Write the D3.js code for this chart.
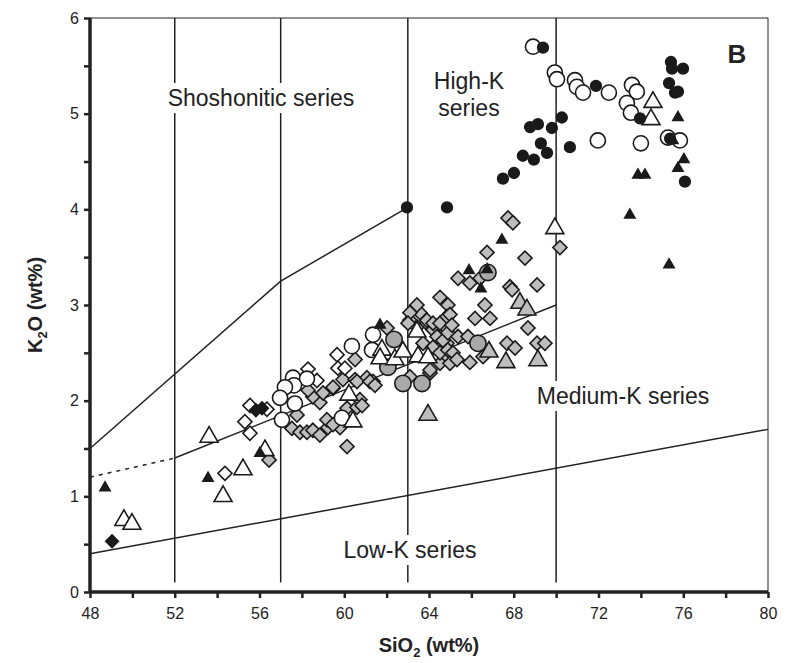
<!DOCTYPE html>
<html>
<head>
<meta charset="utf-8">
<script src="https://cdn.jsdelivr.net/npm/d3@7"></script>
<style>
  body { margin: 0; background: #fff; }
  svg text { font-family: "Liberation Sans", Arial, sans-serif; fill: #222; }
</style>
</head>
<body>
<div id="chart"></div>
<script>
// SiO2 vs K2O values, [SiO2, K2O]
const grayDiamonds = [
  [56.45,1.38],[57.77,1.85],[57.53,1.71],[57.91,1.67],[58.24,1.67],[58.52,1.69],[58.85,1.64],[59.23,1.72],
  [59.80,1.72],[60.13,1.52],[58.85,1.98],[58.52,2.04],[59.47,2.13],[59.94,2.22],[60.51,2.43],[60.51,2.22],
  [61.07,2.24],[61.36,2.20],[60.13,1.92],[60.60,1.93],[58.29,2.11],[63.10,2.25],[62.02,2.76],[64.52,3.08],
  [64.89,3.00],[63.57,2.92],[63.10,2.84],[63.43,2.77],[63.90,2.81],[64.19,2.74],[64.52,2.67],[64.85,2.60],
  [63.72,2.60],[64.19,2.56],[64.85,2.46],[64.52,2.39],[64.05,2.29],[63.43,3.00],[63.10,2.92],[63.90,2.84],
  [64.19,2.81],[64.52,2.81],[64.85,2.88],[63.01,2.81],[64.38,2.67],[64.66,2.63],[64.89,2.71],[64.52,2.50],
  [64.89,2.53],[64.05,2.32],[62.02,2.35],[60.60,2.20],[61.21,2.20],[61.45,2.16],[59.47,2.14],[59.00,2.08],
  [60.74,2.01],[60.84,1.95],[59.18,1.80],[59.47,1.75],[67.73,3.91],[67.96,3.86],[66.74,3.55],[68.53,3.49],
  [70.18,3.60],[65.37,3.28],[65.93,3.23],[66.41,3.28],[67.82,3.19],[67.92,3.16],[69.10,3.21],[66.64,3.00],
  [66.17,2.86],[66.88,2.86],[68.67,2.76],[67.68,2.60],[68.06,2.55],[69.10,2.60],[69.47,2.60],[65.93,2.40],
  [64.99,2.90],[65.08,2.79],[65.37,2.67],[65.84,2.67],[65.13,2.50],[64.99,2.39],[65.32,2.43],[66.55,2.46]
];
const openDiamonds = [
  [54.37,1.24],[55.31,1.78],[55.55,1.95],[55.55,1.66],[56.35,1.91],[58.29,2.33],[58.71,2.21],
  [59.66,2.48],[59.70,2.34],[60.03,2.34]
];
const blackDiamonds = [[49.04,0.53],[56.12,1.92],[55.83,1.90]];
const grayCircles = [[62.35,2.64],[62.77,2.18],[63.67,2.18],[62.06,2.35],[66.31,2.60],[66.78,3.34]];
const openCircles = [
  [68.91,5.70],[69.94,5.43],[70.04,5.36],[70.89,5.35],[70.98,5.28],[71.27,5.22],[72.49,5.22],[71.97,4.72],
  [73.58,5.30],[73.81,5.23],[73.34,5.11],[73.53,5.01],[74.00,4.69],[75.28,4.75],[75.84,4.72],
  [57.58,2.24],[58.24,2.23],[57.63,2.16],[57.20,2.14],[56.97,2.03],[57.67,1.97],[57.06,1.80],
  [60.36,2.57],[61.31,2.53],[61.36,2.69],[59.89,1.82]
];
const grayTriangles = [[68.29,3.02],[68.62,2.95],[66.83,2.51],[67.63,2.40],[69.14,2.42],[63.95,1.85]];
const openTriangles = [
  [53.62,1.62],[56.26,1.48],[55.22,1.28],[54.28,1.00],[49.60,0.75],[49.98,0.71],[69.94,3.80],
  [74.57,5.12],[74.48,4.94],[63.43,2.72],[61.78,2.53],[61.69,2.44],[62.39,2.43],[62.77,2.51],
  [63.48,2.46],[63.95,2.45],[60.22,2.06],[60.41,1.78]
];
const blackCircles = [
  [69.38,5.69],[71.88,5.29],[70.27,4.96],[69.14,4.89],[68.77,4.86],[69.80,4.85],[69.28,4.69],[70.65,4.65],
  [69.57,4.59],[68.43,4.56],[68.95,4.52],[68.01,4.38],[67.49,4.32],[62.96,4.02],[64.85,4.02],[73.96,4.95],
  [75.42,5.54],[75.47,5.47],[75.99,5.47],[75.33,5.32],[75.61,5.22],[75.75,5.23],[75.38,4.74],[76.08,4.29]
];
const blackTriangles = [
  [48.71,1.09],[53.57,1.19],[56.02,1.45],[61.69,2.79],[67.44,3.68],[65.89,3.36],[66.74,3.37],[66.45,3.17],
  [75.75,4.96],[75.51,4.72],[76.03,4.52],[75.75,4.43],[73.86,4.36],[74.19,4.36],[73.48,3.94],[75.33,3.42]
];

// series boundaries
const verticalDividers = [52, 57, 63, 70];
const shoshoniticLine = [[48,1.5],[57,3.25],[63,4.02]];
const highKDashed = [[48,1.2],[52,1.4]];
const highKLine = [[52,1.4],[70,3.0]];
const lowKLine = [[48,0.4],[80,1.7]];

const xTicks = d3.range(48, 81, 2);
const yTicks = d3.range(0, 6.01, 0.5);

const W = 788, H = 663;
const m = { left: 90, right: 768, top: 18, bottom: 592 };

const svg = d3.select('#chart').append('svg')
  .attr('width', W).attr('height', H);

const x = d3.scaleLinear().domain([48, 80]).range([m.left, m.right]);
const y = d3.scaleLinear().domain([0, 6]).range([m.bottom, m.top]);

// frame (top and right thin)
svg.append('path')
  .attr('d', `M${m.left},${m.top}H${m.right}V${m.bottom}`)
  .attr('fill', 'none').attr('stroke', '#222').attr('stroke-width', 1);

const line = d3.line().x(d => x(d[0])).y(d => y(d[1]));

// vertical dividers
svg.append('g').selectAll('line')
  .data(verticalDividers)
  .join('line')
  .attr('x1', d => x(d)).attr('x2', d => x(d))
  .attr('y1', y(6)).attr('y2', y(0.1))
  .attr('stroke', '#222').attr('stroke-width', 1.5);

[shoshoniticLine, highKLine, lowKLine].forEach(pts => {
  svg.append('path').attr('d', line(pts))
    .attr('fill', 'none').attr('stroke', '#222').attr('stroke-width', 1.5);
});
svg.append('path').attr('d', line(highKDashed))
  .attr('fill', 'none').attr('stroke', '#222').attr('stroke-width', 1.5)
  .attr('stroke-dasharray', '4,5');

// field labels with white background boxes
function fieldLabel(lines, cx, cy, size, pad) {
  const g = svg.append('g');
  const t = g.append('text')
    .attr('text-anchor', 'middle')
    .style('font-size', size + 'px');
  lines.forEach((s, i) => {
    t.append('tspan').attr('x', cx).attr('y', cy + i * 27).text(s);
  });
  const b = t.node().getBBox();
  g.insert('rect', 'text')
    .attr('x', b.x - pad).attr('y', b.y - 2)
    .attr('width', b.width + pad * 2).attr('height', b.height + 4)
    .attr('fill', '#fff');
}
fieldLabel(['Shoshonitic series'], 261, 106, 23, 6);
fieldLabel(['High-K', 'series'], 469, 89, 23, 4);
fieldLabel(['Medium-K series'], 623, 404, 23, 6);
fieldLabel(['Low-K series'], 410, 558, 23, 6);

svg.append('text')
  .attr('x', 737).attr('y', 63)
  .attr('text-anchor', 'middle')
  .style('font-size', '26px').style('font-weight', 'bold')
  .text('B');

// markers
const dark = '#1a1a1a';
function drawSeries(data, type, size, fill, rotate) {
  svg.append('g').selectAll('path')
    .data(data)
    .join('path')
    .attr('d', d3.symbol().type(type).size(size))
    .attr('transform', d => `translate(${x(d[0])},${y(d[1])})` + (rotate ? ' rotate(45)' : ''))
    .attr('fill', fill)
    .attr('stroke', dark)
    .attr('stroke-width', 1.6);
}
drawSeries(grayDiamonds, d3.symbolSquare, 100, '#bdbdbd', true);
drawSeries(openDiamonds, d3.symbolSquare, 100, '#fff', true);
drawSeries(blackDiamonds, d3.symbolSquare, 80, dark, true);
drawSeries(grayCircles, d3.symbolCircle, 210, '#a9a9a9');
drawSeries(openCircles, d3.symbolCircle, 180, '#fff');
drawSeries(grayTriangles, d3.symbolTriangle, 140, '#bdbdbd');
drawSeries(openTriangles, d3.symbolTriangle, 140, '#fff');
drawSeries(blackCircles, d3.symbolCircle, 90, dark);
drawSeries(blackTriangles, d3.symbolTriangle, 45, dark);

// axes
const yAxis = d3.axisLeft(y).tickValues(yTicks)
  .tickFormat(d => Number.isInteger(d) ? d : '')
  .tickSize(6).tickPadding(5);
const gy = svg.append('g').attr('transform', `translate(${m.left},0)`).call(yAxis);
gy.select('.domain').attr('d', `M0,${m.top}V${m.bottom}`);

const xAxis = d3.axisBottom(x).tickValues(xTicks)
  .tickFormat(d => d % 4 === 0 ? d : '')
  .tickSize(6).tickPadding(10);
const gx = svg.append('g').attr('transform', `translate(0,${m.bottom})`).call(xAxis);
gx.select('.domain').attr('d', `M${m.left},0H${m.right}`);

[gx, gy].forEach(g => {
  g.selectAll('.tick line').style('stroke', '#222').style('stroke-width', '2.5px');
  g.selectAll('.tick text')
    .style('font-size', '16px')
    .style('font-family', '"Liberation Sans", Arial, sans-serif')
    .attr('fill', '#222');
  g.select('.domain').style('stroke', '#222').style('stroke-width', '3.5px');
});

// axis titles
const xt = svg.append('text')
  .attr('x', 429).attr('y', 652)
  .attr('text-anchor', 'middle')
  .style('font-size', '20px').style('font-weight', 'bold');
xt.append('tspan').text('SiO');
xt.append('tspan').text('2').style('font-size', '13px').attr('dy', 5);
xt.append('tspan').text(' (wt%)').attr('dy', -5);

const yt = svg.append('text')
  .attr('transform', 'translate(42,305) rotate(-90)')
  .attr('text-anchor', 'middle')
  .style('font-size', '20px').style('font-weight', 'bold');
yt.append('tspan').text('K');
yt.append('tspan').text('2').style('font-size', '13px').attr('dy', 5);
yt.append('tspan').text('O (wt%)').attr('dy', -5);
</script>
</body>
</html>
